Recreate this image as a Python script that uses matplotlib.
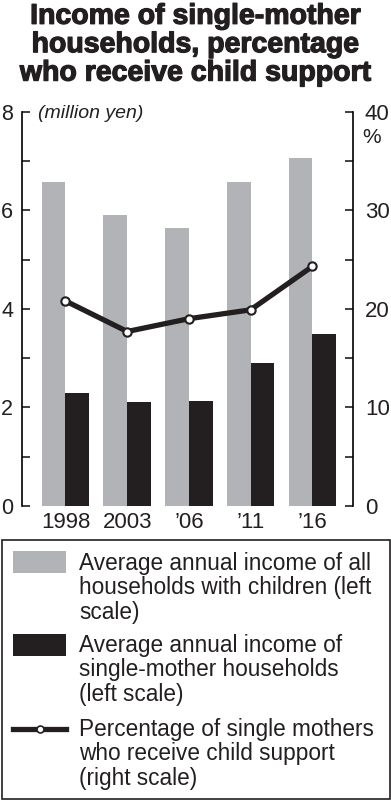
import numpy as np
import matplotlib
matplotlib.use("Agg")
import matplotlib.pyplot as plt
import matplotlib.patheffects as pe
from matplotlib.patches import Rectangle
from matplotlib.lines import Line2D

plt.rcParams['font.family'] = ['Liberation Sans', 'DejaVu Sans']

# data
years = ['1998', '2003', '\u201906', '\u201911', '\u201916']
all_income = [6.58, 5.90, 5.63, 6.58, 7.07]      # million yen, left scale
single_income = [2.29, 2.12, 2.13, 2.91, 3.48]  # million yen, left scale
support_pct = [20.8, 17.7, 19.0, 19.9, 24.3]     # %, right scale

legend_labels = [
    'Average annual income of all\nhouseholds with children (left\nscale)',
    'Average annual income of\nsingle-mother households\n(left scale)',
    'Percentage of single mothers\nwho receive child support\n(right scale)',
]

GRAY = '#b2b3b6'
BLACK = '#231f20'

fig = plt.figure(figsize=(3.91, 8.0), dpi=100)

fig.text(0.5, 0.9435, 'Income of single-mother\nhouseholds, percentage\nwho receive child support',
         ha='center', va='center', fontsize=20.5, fontweight='bold', color=BLACK,
         linespacing=1.12,
         path_effects=[pe.withStroke(linewidth=0.9, foreground=BLACK)])

ax = fig.add_axes([0.057, 0.3675, 0.846, 0.4929])
x = np.arange(len(years))
w = 0.385
ax.bar(x - w / 2, all_income, width=w, color=GRAY, linewidth=0)
ax.bar(x + w / 2, single_income, width=w, color=BLACK, linewidth=0)
ax.set_xlim(-0.7, 4.66)
ax.set_ylim(0, 8)
ax.set_yticks(range(0, 9))
ax.set_yticklabels([str(v) if v % 2 == 0 else '' for v in range(0, 9)])
ax.set_xticks(x)
ax.set_xticklabels(years)
ax.tick_params(axis='y', direction='in', length=5.8, width=1.2, pad=6.5,
               labelsize=15.5, colors=BLACK)
ax.tick_params(axis='x', length=0, pad=4.5, labelsize=16, colors=BLACK)
for s in ['top', 'bottom', 'right']:
    ax.spines[s].set_visible(False)
ax.spines['left'].set_linewidth(1.2)

ax2 = ax.twinx()
ax2.plot(x, support_pct, color=BLACK, linewidth=3.8, marker='o',
         markersize=6, markerfacecolor='white', markeredgecolor=BLACK,
         markeredgewidth=1.5, zorder=5)
ax2.set_ylim(0, 40)
ax2.set_yticks(range(0, 45, 5))
ax2.set_yticklabels([str(v) if v % 10 == 0 else '' for v in range(0, 45, 5)])
ax2.tick_params(axis='y', direction='in', length=5.8, width=1.2, pad=8.5,
                labelsize=16, colors=BLACK)
for s in ['top', 'bottom', 'left']:
    ax2.spines[s].set_visible(False)
ax2.spines['right'].set_linewidth(1.2)

ax.text(0.048, 0.995, '(million yen)', transform=ax.transAxes, ha='left', va='center',
        fontsize=14, style='italic', color=BLACK)
ax2.text(1.028, 0.935, '%', transform=ax2.transAxes, ha='left', va='center',
         fontsize=15, color=BLACK)

# legend box drawn in its own axes
lax = fig.add_axes([0.0, 0.0, 1.0, 1.0], zorder=-1)
lax.set_xlim(0, 391)
lax.set_ylim(800, 0)
lax.axis('off')
lax.add_patch(Rectangle((1.5, 540), 388, 258.5, fill=False, edgecolor=BLACK, linewidth=1.2))
lax.add_patch(Rectangle((13, 551), 53, 22, facecolor=GRAY, edgecolor='none'))
lax.add_patch(Rectangle((13, 634), 53, 22, facecolor=BLACK, edgecolor='none'))
lax.add_line(Line2D([13, 66], [729, 729], color=BLACK, linewidth=3.8))
lax.add_line(Line2D([39.5], [729], marker='o', markersize=5, markerfacecolor='white',
                    markeredgecolor=BLACK, markeredgewidth=1.2))
for label, ytop in zip(legend_labels, [552, 634, 718]):
    lax.text(79, ytop, label, ha='left', va='top', fontsize=16.3, color=BLACK,
             linespacing=1.08)

fig.savefig('out.png', dpi=100)
